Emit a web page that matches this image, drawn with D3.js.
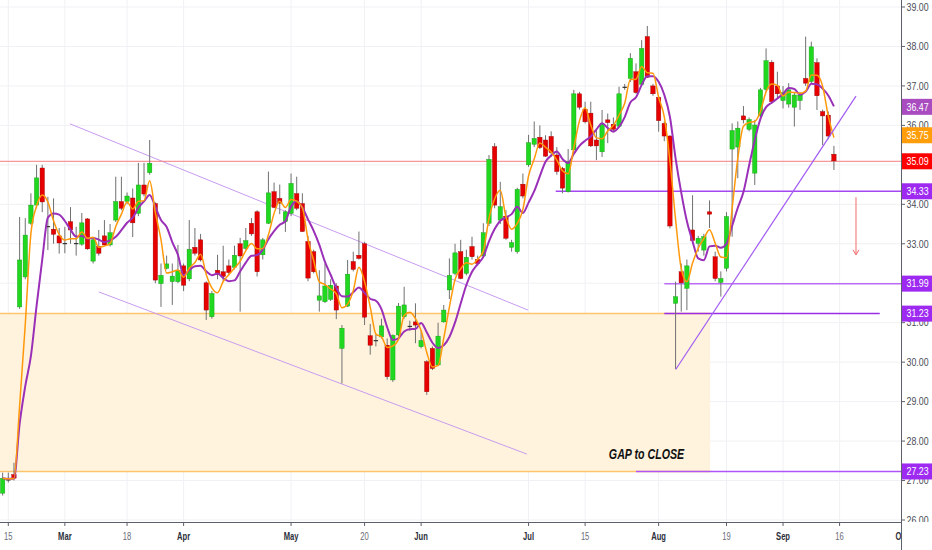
<!DOCTYPE html>
<html>
<head>
<meta charset="utf-8">
<script src="https://cdn.jsdelivr.net/npm/d3@7"></script>
<style>
  body { margin: 0; background: #fff; }
  svg { display: block; }
</style>
</head>
<body>
<svg id="chart" width="932" height="550"></svg>
<script>
// trading calendar (exchange holidays inside the range)
var firstDay = '2019-02-14', lastDay = '2019-10-04';
var holidays = ['2019-04-19', '2019-04-22', '2019-04-25', '2019-06-10'];

// daily candles from Feb 14 to Sep 13: [open, high, low, close]
var ohlc = [
  [26.68, 27.20, 26.62, 27.06], [27.03, 27.20, 26.95, 27.03], [27.15, 27.45, 27.00, 27.06],
  [31.40, 33.68, 31.35, 32.59], [32.16, 33.65, 32.10, 33.22], [33.52, 34.28, 33.48, 33.98],
  [33.98, 35.00, 33.90, 34.67], [34.92, 35.00, 33.80, 34.06], [33.45, 34.19, 32.84, 33.45],
  [33.37, 34.15, 33.00, 33.24], [33.20, 33.40, 32.75, 33.02], [33.02, 33.43, 32.76, 33.02],
  [33.56, 33.93, 33.00, 33.35], [33.02, 33.43, 32.70, 33.02], [32.99, 33.78, 32.95, 33.53],
  [33.63, 33.65, 32.85, 32.87], [32.56, 33.15, 32.50, 33.10], [32.93, 33.35, 32.70, 32.76],
  [33.20, 33.60, 32.95, 32.97], [32.97, 33.50, 32.93, 33.28], [33.60, 34.70, 33.55, 34.07],
  [34.07, 34.70, 33.85, 33.90], [34.07, 34.30, 34.00, 34.21], [34.16, 34.40, 33.17, 33.53],
  [33.77, 35.05, 33.70, 34.49], [34.49, 35.05, 34.20, 34.26], [34.80, 35.63, 34.75, 35.04],
  [34.02, 34.05, 32.00, 32.08], [31.99, 32.50, 31.40, 32.20], [32.38, 32.70, 32.35, 32.49],
  [32.04, 32.50, 31.45, 32.18], [32.04, 32.97, 32.00, 32.33], [32.44, 32.50, 31.80, 31.95],
  [32.11, 33.60, 32.05, 32.86], [32.91, 33.40, 32.70, 32.76], [33.10, 33.25, 32.55, 32.59],
  [32.01, 32.05, 31.07, 31.32], [31.15, 31.80, 31.10, 31.74], [32.33, 32.72, 32.10, 32.22],
  [32.29, 32.95, 32.05, 32.17], [32.44, 32.60, 32.20, 32.27], [32.40, 32.95, 32.35, 32.71],
  [33.00, 33.15, 31.28, 32.69], [32.88, 33.40, 32.85, 33.08], [33.52, 33.65, 33.20, 33.25],
  [33.81, 33.85, 32.17, 32.29], [32.72, 33.15, 32.60, 33.10], [33.52, 34.83, 33.50, 34.29],
  [34.32, 34.55, 33.90, 33.92], [34.15, 34.50, 33.75, 34.03], [33.56, 33.85, 33.30, 33.81],
  [33.77, 34.78, 33.70, 34.53], [34.27, 34.70, 33.85, 33.90], [34.02, 34.28, 33.30, 33.31],
  [33.06, 33.20, 32.05, 32.13], [32.80, 32.85, 32.25, 32.29], [31.57, 32.33, 31.28, 31.68],
  [31.53, 32.50, 31.50, 31.93], [31.59, 32.10, 31.55, 31.95], [31.93, 32.00, 31.09, 31.32],
  [30.35, 30.94, 29.46, 30.86], [31.42, 32.59, 31.40, 32.23], [32.55, 32.80, 32.30, 32.35],
  [32.71, 33.31, 32.60, 32.63], [33.00, 33.05, 30.94, 31.14], [30.67, 30.97, 30.19, 30.43],
  [30.56, 30.70, 30.40, 30.56], [30.64, 31.10, 30.60, 30.92], [30.43, 30.60, 29.56, 29.63],
  [29.55, 30.70, 29.50, 30.68], [30.69, 31.50, 30.65, 31.42], [31.15, 31.91, 31.10, 31.45],
  [30.92, 31.05, 30.80, 30.92], [31.02, 31.49, 30.48, 30.94], [30.39, 30.80, 30.35, 30.55],
  [30.01, 30.05, 29.17, 29.25], [30.35, 30.40, 29.80, 29.84], [29.93, 31.00, 29.90, 30.66],
  [31.02, 31.45, 31.00, 31.32], [31.83, 32.63, 31.60, 32.20], [32.25, 33.00, 32.20, 32.77],
  [32.80, 33.10, 32.10, 32.12], [32.25, 32.85, 32.20, 32.66], [32.93, 33.18, 32.60, 32.67],
  [32.60, 32.70, 32.45, 32.50], [32.69, 33.52, 32.65, 33.28], [33.52, 35.25, 33.45, 35.14],
  [35.46, 35.55, 33.90, 33.98], [33.60, 34.57, 33.50, 33.94], [33.70, 33.85, 33.10, 33.14],
  [32.91, 33.10, 32.80, 33.03], [32.80, 34.42, 32.75, 34.38], [34.51, 34.78, 34.15, 34.21],
  [35.00, 35.76, 34.95, 35.56], [35.52, 36.10, 35.45, 35.67], [35.70, 36.00, 35.40, 35.44],
  [35.63, 35.75, 35.20, 35.22], [35.72, 35.85, 35.20, 35.31], [35.25, 35.45, 34.75, 34.83],
  [34.91, 34.95, 34.28, 34.41], [34.32, 35.40, 34.30, 35.08], [35.38, 36.90, 35.30, 36.80],
  [36.80, 36.85, 36.40, 36.46], [36.41, 36.60, 36.05, 36.09], [36.31, 36.60, 35.45, 35.48],
  [35.63, 35.90, 35.12, 35.48], [35.33, 36.39, 35.20, 36.03], [36.14, 36.30, 35.55, 36.07],
  [36.03, 36.20, 35.85, 35.90], [35.98, 36.98, 35.95, 36.80], [36.98, 37.05, 36.90, 36.98],
  [37.19, 37.83, 37.10, 37.70], [37.36, 37.57, 36.80, 36.83], [37.04, 38.16, 37.00, 37.95],
  [38.25, 38.52, 37.20, 37.22], [37.00, 37.05, 36.75, 36.80], [36.71, 36.75, 35.84, 36.12],
  [36.05, 36.10, 35.60, 35.73], [35.73, 35.75, 33.39, 33.45], [31.49, 32.04, 29.82, 31.66],
  [32.29, 32.50, 31.28, 32.01], [31.87, 32.60, 31.32, 32.44], [33.35, 34.23, 33.00, 33.08],
  [33.01, 33.20, 32.80, 33.14], [32.84, 33.25, 32.70, 33.18], [33.81, 34.10, 33.40, 33.75],
  [32.67, 32.80, 32.05, 32.12], [32.02, 32.30, 31.66, 32.12], [32.38, 33.80, 32.30, 33.69],
  [35.40, 36.05, 33.18, 35.87], [35.45, 36.10, 34.66, 35.93], [36.24, 36.49, 36.05, 36.14],
  [35.90, 36.20, 35.85, 36.15], [34.79, 36.14, 34.49, 36.01], [36.24, 36.95, 36.20, 36.90],
  [36.91, 37.95, 36.85, 37.64], [37.60, 37.65, 36.55, 36.60], [37.00, 37.36, 36.70, 36.80],
  [36.63, 37.00, 36.43, 36.83], [36.54, 37.07, 36.45, 36.90], [36.46, 36.82, 35.97, 36.77],
  [36.63, 36.85, 36.39, 36.77], [37.19, 38.25, 37.00, 37.07], [37.11, 38.12, 37.05, 37.99],
  [37.59, 37.70, 36.39, 36.75], [36.35, 36.40, 35.50, 36.24], [36.26, 36.35, 35.65, 35.73],
  [35.27, 35.48, 34.87, 35.10]
];

// moving average lengths (fast orange, slow purple)
var fastLen = 3, slowLen = 6;

// time axis
var tickDates  = ['2019-02-15', '2019-03-01', '2019-03-18', '2019-04-01', '2019-05-01', '2019-05-20', '2019-06-03',
                  '2019-07-01', '2019-07-15', '2019-08-01', '2019-08-19', '2019-09-02', '2019-09-16', '2019-10-01'];
var tickLabels = ['15', 'Mar', '18', 'Apr', 'May', '20', 'Jun', 'Jul', '15', 'Aug', '19', 'Sep', '16', 'Oct'];
var priceTicks = [26, 27, 28, 29, 30, 31, 32, 33, 34, 35, 36, 37, 38, 39];

// drawings, in [bar, price] (bar 0 = Feb 14)
var channelTop = [[11.9, 36.04], [92.9, 31.32]];
var channelBottom = [[17.0, 31.78], [92.7, 27.67]];
var trendUp = [[119.05, 29.82], [150.9, 36.74]];
var gapBox = { x1: -5, x2: 125.1, top: 31.23, bottom: 27.23 };
var levels = [
  { price: 35.09, from: -5, to: 170, color: '#f77c80', w: 1 },
  { price: 34.33, from: 97.8, to: 170, color: '#a448f2', w: 1.5 },
  { price: 31.99, from: 117, to: 170, color: '#bb6cf7', w: 1.5 },
  { price: 31.23, from: 117, to: 155.1, color: '#9a2ee6', w: 1.5 },
  { price: 27.23, from: 112, to: 170, color: '#b055f5', w: 1.5 }
];
var arrowDown = { bar: 150.9, from: 34.18, to: 32.72 };
var gapText = { bar: 107.2, price: 27.55, text: 'GAP to CLOSE' };

// right-hand price tags
var tagValues = [36.47, 35.75, 35.09, 34.33, 31.99, 31.23, 27.23];
var tagColors = ['#a94cbf', '#ff9d0a', '#ff0000', '#9e2af2', '#9e2af2', '#9e2af2', '#9e2af2'];

var W = 932, H = 550, plotR = 901, plotB = 522;
var step = 5.655, x0 = 8.3;
var fmt = d3.timeFormat('%Y-%m-%d');
var parse = d3.timeParse('%Y-%m-%d');

var days = d3.timeDay.range(parse(firstDay), parse(lastDay)).filter(function(d) {
  var wd = d.getDay();
  return wd !== 0 && wd !== 6 && holidays.indexOf(fmt(d)) < 0;
});
var dayIndex = {};
days.forEach(function(d, i) { dayIndex[fmt(d)] = i; });

var x = d3.scaleLinear().domain([1, 148]).range([x0, x0 + 147 * step]);
var y = d3.scaleLinear().domain([26, 39]).range([520, 7]);

function sma(vals, n) {
  return vals.map(function(v, i) {
    return d3.mean(vals.slice(Math.max(0, i - n + 1), i + 1));
  });
}
// squeeze text into a condensed look
function narrow(sel, k) {
  sel.each(function() {
    var w = this.getComputedTextLength();
    d3.select(this).attr('textLength', w * k).attr('lengthAdjust', 'spacingAndGlyphs');
  });
}
var closes = ohlc.map(function(r) { return r[3]; });
var fastMa = sma(closes, fastLen), slowMa = sma(closes, slowLen);
var FONT = '"Liberation Sans", Arial, sans-serif';

var svg = d3.select('#chart');
svg.append('rect').attr('width', W).attr('height', H).attr('fill', '#fff');

var defs = svg.append('defs');
defs.append('clipPath').attr('id', 'plot').append('rect').attr('width', plotR).attr('height', plotB);
defs.append('clipPath').attr('id', 'paxis').append('rect').attr('x', plotR).attr('width', W - plotR).attr('height', plotB);
defs.append('clipPath').attr('id', 'taxis').append('rect').attr('y', plotB).attr('width', plotR).attr('height', H - plotB);

var g = svg.append('g').attr('clip-path', 'url(#plot)');

// grid
g.selectAll('.hg').data(priceTicks).enter().append('line')
  .attr('x1', 0).attr('x2', plotR).attr('y1', function(d) { return y(d); }).attr('y2', function(d) { return y(d); })
  .attr('stroke', '#f0f1f4').attr('stroke-width', 1);
g.selectAll('.vg').data(tickDates).enter().append('line')
  .attr('x1', function(d) { return x(dayIndex[d]); }).attr('x2', function(d) { return x(dayIndex[d]); })
  .attr('y1', 0).attr('y2', plotB).attr('stroke', '#f0f1f4').attr('stroke-width', 1);

// gap box
g.append('rect').attr('x', x(gapBox.x1)).attr('y', y(gapBox.top))
  .attr('width', x(gapBox.x2) - x(gapBox.x1)).attr('height', y(gapBox.bottom) - y(gapBox.top))
  .attr('fill', '#fff3de');
[gapBox.top, gapBox.bottom].forEach(function(p) {
  g.append('line').attr('x1', x(gapBox.x1)).attr('x2', x(gapBox.x2)).attr('y1', y(p)).attr('y2', y(p))
    .attr('stroke', '#ffc46e').attr('stroke-width', 1.5);
});

// channel lines
[channelTop, channelBottom].forEach(function(ln) {
  g.append('line').attr('x1', x(ln[0][0])).attr('y1', y(ln[0][1])).attr('x2', x(ln[1][0])).attr('y2', y(ln[1][1]))
    .attr('stroke', '#c99cf0').attr('stroke-width', 1);
});

// horizontal levels
g.selectAll('.lvl').data(levels).enter().append('line')
  .attr('x1', function(d) { return x(d.from); }).attr('x2', function(d) { return x(d.to); })
  .attr('y1', function(d) { return y(d.price); }).attr('y2', function(d) { return y(d.price); })
  .attr('stroke', function(d) { return d.color; }).attr('stroke-width', function(d) { return d.w; });

// candles
var candle = g.append('g').selectAll('.c').data(ohlc).enter().append('g');
candle.append('line')
  .attr('x1', function(d, i) { return x(i); }).attr('x2', function(d, i) { return x(i); })
  .attr('y1', function(d) { return y(d[1]); }).attr('y2', function(d) { return y(d[2]); })
  .attr('stroke', '#707070').attr('stroke-width', 1);
candle.append('rect')
  .attr('x', function(d, i) { return x(i) - 2.2; }).attr('width', 4.4)
  .attr('y', function(d) { return y(Math.max(d[0], d[3])); })
  .attr('height', function(d) { return Math.max(1.2, Math.abs(y(d[0]) - y(d[3]))); })
  .attr('fill', function(d) { return d[3] > d[0] ? '#1fd81f' : d[3] < d[0] ? '#e60000' : '#333'; })
  .attr('stroke', function(d) { return d[3] > d[0] ? '#159a15' : d[3] < d[0] ? '#9a0000' : 'none'; })
  .attr('stroke-width', 0.4);

// moving averages
var maLine = d3.line().x(function(d, i) { return x(i); }).y(function(d) { return y(d); }).curve(d3.curveMonotoneX);
g.append('path').datum(slowMa).attr('d', maLine).attr('fill', 'none').attr('stroke', '#9b30b8').attr('stroke-width', 2);
g.append('path').datum(fastMa).attr('d', maLine).attr('fill', 'none').attr('stroke', '#ff980a').attr('stroke-width', 1.5);

// uptrend line
g.append('line').attr('x1', x(trendUp[0][0])).attr('y1', y(trendUp[0][1])).attr('x2', x(trendUp[1][0])).attr('y2', y(trendUp[1][1]))
  .attr('stroke', '#a35cf2').attr('stroke-width', 1.2);

// arrow
var ax = x(arrowDown.bar), ay1 = y(arrowDown.from), ay2 = y(arrowDown.to);
g.append('path').attr('d', 'M' + ax + ',' + ay1 + 'V' + ay2 + 'M' + (ax - 3) + ',' + (ay2 - 5) + 'L' + ax + ',' + ay2 + 'L' + (ax + 3) + ',' + (ay2 - 5))
  .attr('fill', 'none').attr('stroke', '#f06a6a').attr('stroke-width', 1);

// label
g.append('text').attr('x', x(gapText.bar)).attr('y', y(gapText.price))
  .attr('font-family', FONT).attr('font-size', 15).attr('font-weight', 'bold').attr('font-style', 'italic').attr('fill', '#111')
  .text(gapText.text).call(narrow, 0.71);

// axes lines
svg.append('line').attr('x1', plotR + 0.5).attr('x2', plotR + 0.5).attr('y1', 0).attr('y2', H).attr('stroke', '#5d606b').attr('stroke-width', 1);
svg.append('line').attr('x1', 0).attr('x2', plotR).attr('y1', plotB + 0.5).attr('y2', plotB + 0.5).attr('stroke', '#5d606b').attr('stroke-width', 1);

// price axis (labels fully hidden under a tag are skipped)
var shown = priceTicks.filter(function(p) {
  return !tagValues.some(function(t) { return Math.abs(y(t) - y(p)) < 6; });
});
var pa = svg.append('g').attr('clip-path', 'url(#paxis)');
pa.selectAll('.pt').data(priceTicks).enter().append('line')
  .attr('x1', plotR).attr('x2', plotR + 4).attr('y1', function(d) { return y(d); }).attr('y2', function(d) { return y(d); })
  .attr('stroke', '#5d606b');
pa.selectAll('.pl').data(shown).enter().append('text')
  .attr('x', plotR + 5.5).attr('y', function(d) { return y(d) + 3.8; })
  .attr('font-family', FONT).attr('font-size', 10.5).attr('fill', '#4a4d57')
  .text(function(d) { return d.toFixed(2); }).call(narrow, 0.84);

var tag = pa.selectAll('.tag').data(tagValues).enter().append('g');
tag.append('rect').attr('x', plotR + 1).attr('width', W - plotR).attr('y', function(d) { return y(d) - 8; }).attr('height', 16)
  .attr('fill', function(d, i) { return tagColors[i]; });
tag.append('text').attr('x', plotR + 5.5).attr('y', function(d) { return y(d) + 3.8; })
  .attr('font-family', FONT).attr('font-size', 10.5).attr('fill', '#fff')
  .text(function(d) { return d.toFixed(2); }).call(narrow, 0.84);

// time axis
var ta = svg.append('g').attr('clip-path', 'url(#taxis)');
ta.selectAll('.tt').data(tickDates).enter().append('line')
  .attr('x1', function(d) { return x(dayIndex[d]); }).attr('x2', function(d) { return x(dayIndex[d]); })
  .attr('y1', plotB).attr('y2', plotB + 4).attr('stroke', '#5d606b');
ta.selectAll('.tl').data(tickDates).enter().append('text')
  .attr('x', function(d) { return x(dayIndex[d]); }).attr('y', plotB + 18)
  .attr('text-anchor', 'middle')
  .attr('font-family', FONT).attr('font-size', 11.5)
  .attr('font-weight', function(d, i) { return isNaN(+tickLabels[i]) ? 'bold' : 'normal'; })
  .attr('fill', function(d, i) { return isNaN(+tickLabels[i]) ? '#2a2e39' : '#6a6d78'; })
  .text(function(d, i) { return tickLabels[i]; }).call(narrow, 0.66);
</script>
</body>
</html>
